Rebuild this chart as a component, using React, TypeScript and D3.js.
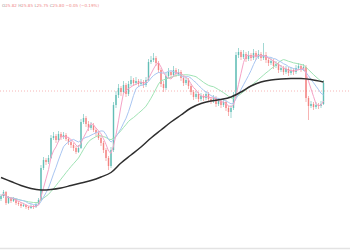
import React from 'react';
import * as d3 from 'd3';

const firstOpen = 15.1;
const closes = [
  15.4, 15.8, 14.7, 15.2, 14.9, 15.1, 14.7, 14.6, 14.4, 14.5,
  14.3, 14.2, 14.4, 14.3, 14.6, 15.0, 18.2, 19.0, 18.8, 19.2,
  21.2, 21.4, 21.0, 21.6, 21.3, 21.5, 21.1, 20.8, 20.5, 20.2,
  19.8, 20.2, 22.8, 23.2, 22.6, 22.2, 22.5, 22.0, 21.7, 21.2,
  20.7, 20.0, 19.2, 18.4, 20.0, 24.5, 25.5, 26.2, 25.8, 26.5,
  25.6, 26.6, 27.0, 26.7, 26.9, 26.6, 26.8, 26.5, 27.0, 28.8,
  29.0, 29.2, 28.7, 28.0, 26.6, 26.2, 27.4, 27.8, 27.5, 28.0,
  27.6, 27.8, 27.2, 26.7, 27.0, 26.4, 25.8, 25.3, 25.6, 25.1,
  25.4, 25.2, 25.6, 25.1, 24.9, 25.2, 24.6, 24.9, 24.5, 24.8,
  24.2, 23.8, 24.2, 25.5, 29.5, 29.8, 29.3, 29.6, 29.1, 29.5,
  29.2, 29.7, 29.3, 29.6, 29.2, 29.5, 29.0, 28.7, 28.9, 28.4,
  28.6, 28.0, 28.2, 27.8, 28.1, 27.7, 28.0, 27.8, 28.2, 28.4,
  28.1, 28.3, 25.2, 24.4, 24.6, 24.3, 24.5, 24.4, 24.6, 26.7,
];
const highs = [
  15.6, 16.0, 15.9, 15.4, 15.3, 15.3, 15.2, 14.9, 14.8, 14.7,
  14.6, 14.4, 14.6, 14.5, 14.8, 15.2, 18.5, 19.3, 19.2, 19.5,
  21.5, 21.8, 21.6, 21.9, 21.8, 21.8, 21.7, 21.3, 21.0, 20.7,
  20.4, 20.5, 23.1, 23.6, 23.4, 22.9, 22.8, 22.7, 22.2, 21.9,
  21.4, 20.9, 20.2, 19.4, 20.3, 24.8, 25.9, 26.6, 26.4, 26.9,
  26.7, 26.9, 27.4, 27.2, 27.3, 27.1, 27.1, 27.0, 27.3, 29.1,
  29.4, 29.7, 29.4, 28.9, 28.2, 26.9, 27.7, 28.2, 28.0, 28.4,
  28.2, 28.1, 28.0, 27.4, 27.3, 27.2, 26.6, 26.0, 25.9, 25.8,
  25.7, 25.6, 25.9, 25.8, 25.3, 25.5, 25.4, 25.2, 25.1, 25.1,
  25.0, 24.4, 24.5, 25.8, 29.8, 30.2, 30.0, 30.0, 29.8, 29.9,
  29.7, 30.1, 29.9, 30.0, 29.8, 30.7, 29.8, 29.2, 29.2, 29.1,
  28.9, 28.8, 28.5, 28.4, 28.4, 28.3, 28.3, 28.2, 28.5, 28.7,
  28.6, 28.6, 28.5, 25.4, 24.9, 24.8, 24.8, 24.7, 24.9, 27.0,
];
const lows = [
  14.9, 15.2, 14.5, 14.6, 14.7, 14.8, 14.5, 14.4, 14.2, 14.3,
  14.1, 14.0, 14.1, 14.1, 14.2, 14.5, 14.9, 18.0, 18.5, 18.6,
  19.1, 21.0, 20.7, 20.8, 21.0, 21.1, 20.9, 20.5, 20.2, 19.9,
  19.6, 19.7, 20.1, 22.6, 22.3, 21.9, 22.0, 21.8, 21.4, 21.0,
  20.4, 19.7, 18.9, 18.0, 18.2, 19.8, 24.2, 25.2, 25.4, 25.6,
  25.3, 25.4, 26.4, 26.4, 26.5, 26.3, 26.4, 26.2, 26.3, 26.9,
  28.6, 28.8, 28.4, 27.7, 26.3, 25.8, 26.0, 27.2, 27.2, 27.3,
  27.3, 27.4, 26.9, 26.4, 26.5, 26.1, 25.5, 25.0, 25.1, 24.8,
  24.9, 24.9, 25.0, 24.8, 24.6, 24.7, 24.3, 24.4, 24.2, 24.3,
  23.9, 23.4, 23.2, 24.0, 25.3, 29.2, 29.0, 29.1, 28.8, 28.9,
  28.9, 29.0, 29.0, 29.1, 28.9, 29.0, 28.7, 28.4, 28.5, 28.1,
  28.2, 27.7, 27.8, 27.5, 27.6, 27.4, 27.5, 27.5, 27.6, 28.0,
  27.8, 27.9, 24.8, 23.0, 24.2, 24.0, 24.1, 24.1, 24.2, 24.5,
];

// long moving average (candle index, value)
const longMaIndex = [0, 4, 8, 12, 16, 20, 24, 28, 32, 36, 40, 44, 48, 52, 56, 60, 64, 68, 72, 76, 80, 84, 88, 92, 96, 100, 104, 108, 112, 116, 120, 124, 129];
const longMaValues = [17.25, 16.85, 16.45, 16.15, 16.0, 16.05, 16.2, 16.45, 16.7, 16.95, 17.3, 17.75, 18.7, 19.5, 20.3, 21.2, 22.0, 22.8, 23.5, 24.2, 24.65, 24.9, 25.05, 25.3, 25.8, 26.4, 26.8, 27.0, 27.1, 27.15, 27.15, 27.05, 26.8];

const maPeriods = [20, 10, 5];
const maColors = ['#9fe3b4', '#a9c6f2', '#f5a3c7'];
const refPrice = 25.9;

const legendLabels = ['O', 'H', 'L', 'C'];
const legendValues = ['25.82', '25.85', '25.75', '25.80'];
const legendChange = '−0.05 (−0.19%)';

export default function App() {
  const W = 350;
  const H = 250;
  const x = d3.scaleLinear().domain([0, closes.length - 1]).range([1, 323.5]);
  const y = d3.scaleLinear().domain([10, 35]).range([250, 0]);
  const opens = closes.map((c, i) => (i === 0 ? firstOpen : closes[i - 1]));

  const sma = (n: number) =>
    closes.map((_, i) => d3.mean(closes.slice(Math.max(0, i - n + 1), i + 1)) as number);

  const lineGen = d3
    .line<number>()
    .x((_, i) => x(i))
    .y((d) => y(d));

  const longLine = d3
    .line<number>()
    .x((_, i) => x(longMaIndex[i]))
    .y((d) => y(d))
    .curve(d3.curveCatmullRom.alpha(0.5));

  const bodyW = 1.4;

  return (
    <svg
      width={W}
      height={H}
      style={{ position: 'fixed', left: 0, top: 0, background: '#fff' }}
      fontFamily="'DejaVu Sans', sans-serif"
    >
      <rect x={0} y={0} width={W} height={H} fill="#ffffff" />
      <line x1={0} x2={W} y1={y(refPrice)} y2={y(refPrice)} stroke="#f4a3a3" strokeWidth={0.8} strokeDasharray="1,2" />
      <line x1={0} x2={W} y1={248.5} y2={248.5} stroke="#e3e3e3" strokeWidth={1.5} />

      {closes.map((c, i) => {
        const o = opens[i];
        const up = c >= o;
        const col = up ? '#26a69a' : '#ef5350';
        const top = y(Math.max(o, c));
        const bot = y(Math.min(o, c));
        return (
          <g key={i} opacity={0.72}>
            <line x1={x(i)} x2={x(i)} y1={y(highs[i])} y2={y(lows[i])} stroke={col} strokeWidth={0.6} />
            <rect x={x(i) - bodyW / 2} y={top} width={bodyW} height={Math.max(0.6, bot - top)} fill={col} />
          </g>
        );
      })}

      {maPeriods.map((p, k) => (
        <path key={p} d={lineGen(sma(p)) || ''} fill="none" stroke={maColors[k]} strokeWidth={1} />
      ))}

      <path d={longLine(longMaValues) || ''} fill="none" stroke="#2e2e2e" strokeWidth={1.5} />

      <text x={2} y={6.5} fontSize={4.1} fill="#f08a8a">
        {legendLabels.map((l, i) => (
          <React.Fragment key={l}>
            <tspan fill="#9a9a9a">{l}</tspan>
            <tspan>{legendValues[i] + '  '}</tspan>
          </React.Fragment>
        ))}
        <tspan>{legendChange}</tspan>
      </text>
    </svg>
  );
}
